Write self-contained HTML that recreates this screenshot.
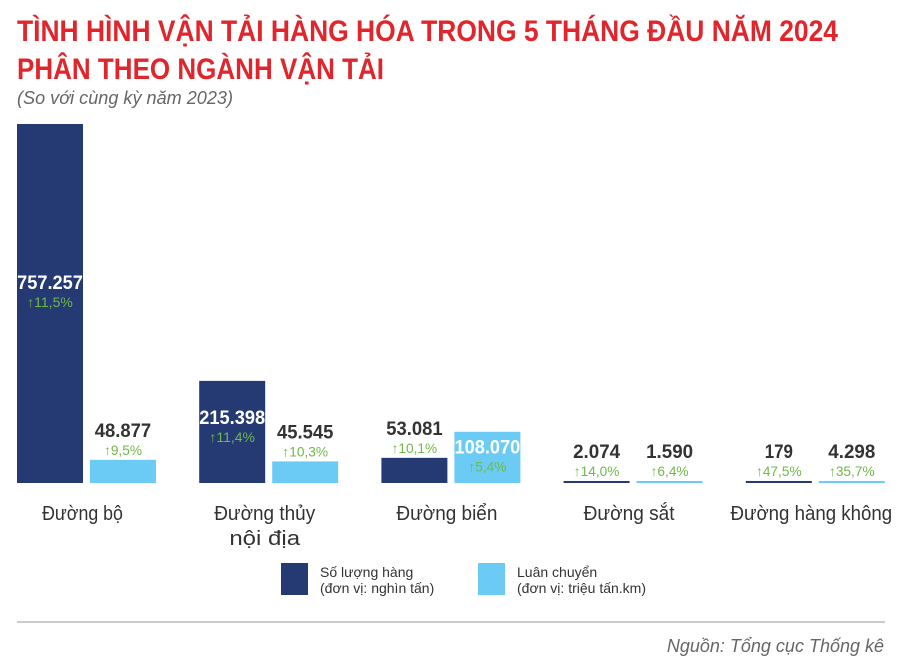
<!DOCTYPE html>
<html><head><meta charset="utf-8"><style>
body{margin:0;background:#fff;}
svg{display:block;font-family:"Liberation Sans",sans-serif;}
</style></head><body>
<svg id="c" width="900" height="662" viewBox="0 0 900 662">
<text x="17" y="41" font-size="30" font-weight="bold" fill="#e0262c" textLength="821" lengthAdjust="spacingAndGlyphs">TÌNH HÌNH VẬN TẢI HÀNG HÓA TRONG 5 THÁNG ĐẦU NĂM 2024</text>
<text x="17" y="79" font-size="30" font-weight="bold" fill="#e0262c" textLength="367" lengthAdjust="spacingAndGlyphs">PHÂN THEO NGÀNH VẬN TẢI</text>
<text x="17" y="104" font-size="18" font-style="italic" fill="#666" textLength="216" lengthAdjust="spacingAndGlyphs">(So với cùng kỳ năm 2023)</text>
<g id="bars"></g>
<rect x="281" y="563" width="27" height="32" fill="#253a73"/>
<text x="320" y="577" font-size="14" fill="#333">Số lượng hàng</text>
<text x="320" y="593" font-size="14" fill="#333">(đơn vị: nghìn tấn)</text>
<rect x="478" y="563" width="27" height="32" fill="#6ccbf5"/>
<text x="517" y="577" font-size="14" fill="#333">Luân chuyển</text>
<text x="517" y="593" font-size="14" fill="#333">(đơn vị: triệu tấn.km)</text>
<line x1="17" y1="622" x2="885" y2="622" stroke="#bbb" stroke-width="1.5"/>
<text x="884" y="652" font-size="18" font-style="italic" fill="#666" text-anchor="end">Nguồn: Tổng cục Thống kê</text>
</svg>
<script>
const categories = [["Đường bộ"],["Đường thủy","nội địa"],["Đường biển"],["Đường sắt"],["Đường hàng không"]];
const volume = [757257, 215398, 53081, 2074, 179];
const volumeLabels = ["757.257","215.398","53.081","2.074","179"];
const volumeGrowth = ["11,5%","11,4%","10,1%","14,0%","47,5%"];
const rotation = [48877, 45545, 108070, 1590, 4298];
const rotationLabels = ["48.877","45.545","108.070","1.590","4.298"];
const rotationGrowth = ["9,5%","10,3%","5,4%","6,4%","35,7%"];

const NS="http://www.w3.org/2000/svg";
const g=document.getElementById('bars');
const base=483, maxH=359, maxV=757257;
const yH=v=>Math.max(2, v/maxV*maxH);
const gx=i=>17+i*182.2;
const bw=66, gap=7;
function mk(tag,attrs,txt){const e=document.createElementNS(NS,tag);for(const k in attrs)e.setAttribute(k,attrs[k]);if(txt!==undefined)e.textContent=txt;g.appendChild(e);return e;}
function bar(i,series,v,lab,gr,color,x){
  const h=yH(v), top=base-h;
  const r=mk('rect',{x:x,y:top,width:bw,height:h,fill:color});
  
  
  let vy, inside=h>=45;
  if(inside){ vy = top + (h>200 ? h*0.44 : 12+(h-45)*0.42) + 7; }
  else { vy = top-23; }
  const cx=x+bw/2;
  const t=mk('text',{x:cx,y:vy,'font-size':19,'font-weight':'bold','text-anchor':'middle',fill:inside?'#fff':'#333',textLength:lab.length*9.4,lengthAdjust:'spacingAndGlyphs'},lab);
  
  
  const s='\u2191'+gr;
  const p=mk('text',{x:cx,y:vy+18,'font-size':14,'text-anchor':'middle',fill:'#6fb84a',textLength:s.length*7.6,lengthAdjust:'spacingAndGlyphs'},s);
  
  
}
categories.forEach((c,i)=>{
  const x=gx(i);
  bar(i,'volume',volume[i],volumeLabels[i],volumeGrowth[i],'#253a73',x);
  bar(i,'rotation',rotation[i],rotationLabels[i],rotationGrowth[i],'#6ccbf5',x+bw+gap);
  c.forEach((line,j)=>{
    const t=mk('text',{x:x+bw+gap/2-4,y:520+j*25,'font-size':20,'text-anchor':'middle',fill:'#333',textLength:line.length*10.1,lengthAdjust:'spacingAndGlyphs'},line);
    
    
  });
});
</script>
</body></html>
